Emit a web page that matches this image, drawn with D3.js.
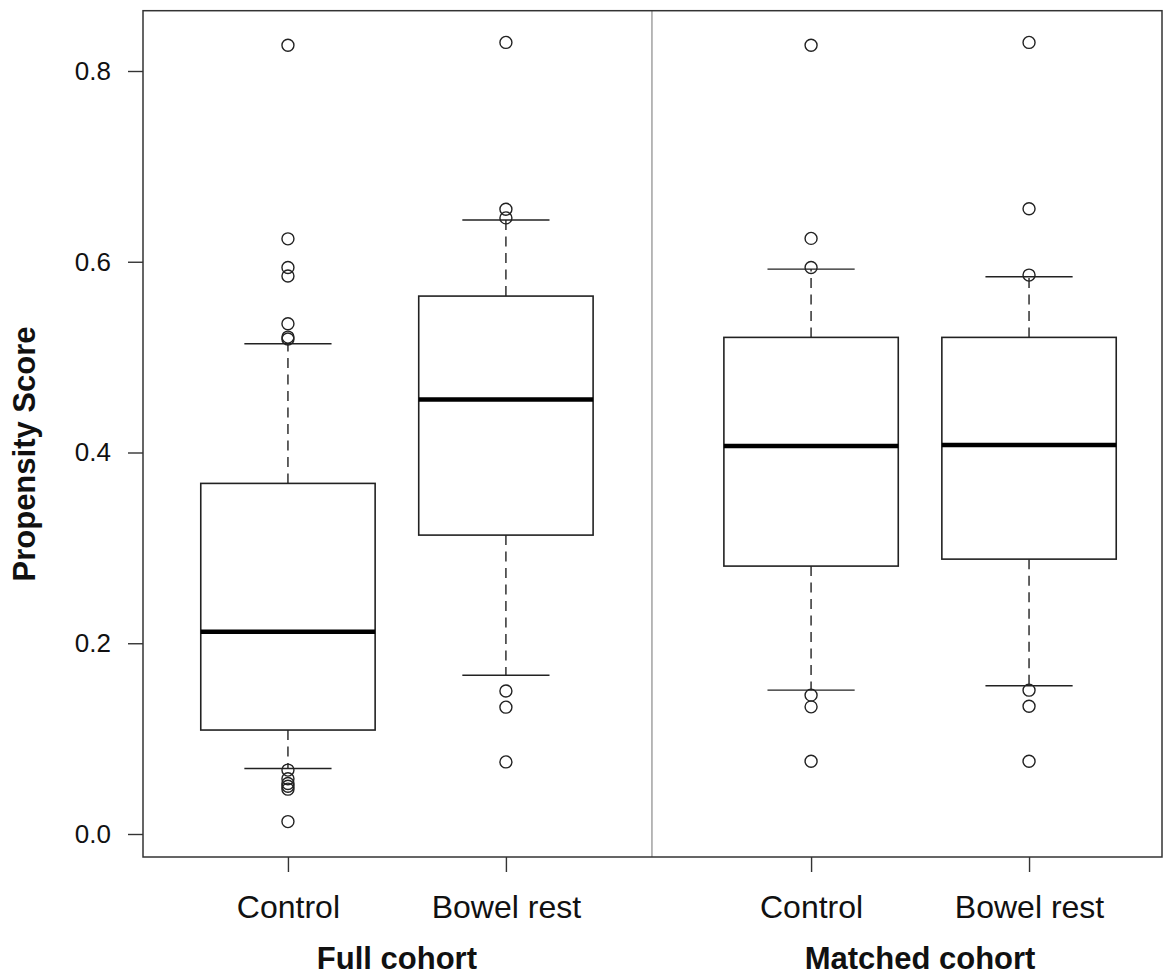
<!DOCTYPE html>
<html lang="en">
<head>
	<meta charset="utf-8">
	<title>Propensity score boxplots</title>
	<script type="text/javascript" src="https://cdn.jsdelivr.net/npm/d3@7"></script>
	<style type="text/css">
		body { margin: 0; background: #fff; }
		text { font-family: "Liberation Sans", Arial, sans-serif; fill: #111; }
	</style>
</head>
<body>
	<script type="text/javascript">
// DATA
		var groups = ["Control", "Bowel rest", "Control", "Bowel rest"];
		var cohorts = ["Full cohort", "Matched cohort"];
		var cohortOf = [0, 0, 1, 1];
		var whiskLow = [0.0687, 0.1665, 0.1508, 0.1554];
		var q1 = [0.109, 0.3134, 0.2809, 0.2882];
		var median = [0.212, 0.4557, 0.4067, 0.4078];
		var q3 = [0.3676, 0.564, 0.5207, 0.5207];
		var whiskHigh = [0.514, 0.6437, 0.5923, 0.5843];
		var outliers = [
			[0.827, 0.624, 0.594, 0.585, 0.535, 0.521, 0.519, 0.067, 0.058, 0.053, 0.050, 0.047, 0.013],
			[0.830, 0.655, 0.646, 0.150, 0.133, 0.0756],
			[0.827, 0.6245, 0.594, 0.1456, 0.1333, 0.0763],
			[0.830, 0.6556, 0.586, 0.1508, 0.134, 0.0763]
		];
		var yTicks = [0, 0.2, 0.4, 0.6, 0.8];

// LAYOUT
		var w = 1166, h = 977;
		var pLeft = 143, pRight = 1162, pTop = 10.7, pBottom = 857;
		var slots = [1, 2, 3.4, 4.4];   // box positions along x
		var divider = 2.67;
		var boxWex = 0.8, stapleWex = 0.4;

		var x = d3.scaleLinear().domain([0.335, 5.01]).range([pLeft, pRight]);
		var y = d3.scaleLinear().domain([0, 0.8]).range([834, 71]);

		var boxes = groups.map(function(g, i) {
			return { name: g, pos: slots[i], lo: whiskLow[i], q1: q1[i], med: median[i],
				q3: q3[i], hi: whiskHigh[i], out: outliers[i] };
		});

// SVG
		var svg = d3.select("body")
			.append("svg")
			.attr("width", w)
			.attr("height", h);

		// divider between cohorts
		svg.append("line")
			.attr("x1", x(divider)).attr("x2", x(divider))
			.attr("y1", pTop).attr("y2", pBottom)
			.attr("stroke", "#8a8a8a")
			.attr("stroke-width", 1.2);

		var bx = svg.selectAll("g.box")
			.data(boxes)
			.enter()
			.append("g")
			.attr("class", "box");

		// WHISKERS (dashed)
		bx.append("line")
			.attr("x1", function(d) { return x(d.pos); })
			.attr("x2", function(d) { return x(d.pos); })
			.attr("y1", function(d) { return y(d.q3); })
			.attr("y2", function(d) { return y(d.hi); })
			.attr("stroke", "#222").attr("stroke-width", 1.4)
			.attr("stroke-dasharray", "10,6.5");
		bx.append("line")
			.attr("x1", function(d) { return x(d.pos); })
			.attr("x2", function(d) { return x(d.pos); })
			.attr("y1", function(d) { return y(d.q1); })
			.attr("y2", function(d) { return y(d.lo); })
			.attr("stroke", "#222").attr("stroke-width", 1.4)
			.attr("stroke-dasharray", "10,6.5");

		// STAPLES
		["lo", "hi"].forEach(function(k) {
			bx.append("line")
				.attr("x1", function(d) { return x(d.pos - stapleWex / 2); })
				.attr("x2", function(d) { return x(d.pos + stapleWex / 2); })
				.attr("y1", function(d) { return y(d[k]); })
				.attr("y2", function(d) { return y(d[k]); })
				.attr("stroke", "#222").attr("stroke-width", 1.4);
		});

		// BOXES
		bx.append("rect")
			.attr("x", function(d) { return x(d.pos - boxWex / 2); })
			.attr("width", function(d) { return x(d.pos + boxWex / 2) - x(d.pos - boxWex / 2); })
			.attr("y", function(d) { return y(d.q3); })
			.attr("height", function(d) { return y(d.q1) - y(d.q3); })
			.attr("fill", "white")
			.attr("stroke", "#222").attr("stroke-width", 1.6);

		// MEDIANS
		bx.append("line")
			.attr("x1", function(d) { return x(d.pos - boxWex / 2); })
			.attr("x2", function(d) { return x(d.pos + boxWex / 2); })
			.attr("y1", function(d) { return y(d.med); })
			.attr("y2", function(d) { return y(d.med); })
			.attr("stroke", "#000").attr("stroke-width", 4.5);

		// OUTLIERS
		bx.selectAll("circle")
			.data(function(d) { return d.out.map(function(v) { return { pos: d.pos, v: v }; }); })
			.enter()
			.append("circle")
			.attr("cx", function(d) { return x(d.pos); })
			.attr("cy", function(d) { return y(d.v); })
			.attr("r", 6)
			.attr("fill", "none")
			.attr("stroke", "#222").attr("stroke-width", 1.4);

		// FRAME
		svg.append("rect")
			.attr("x", pLeft).attr("y", pTop)
			.attr("width", pRight - pLeft).attr("height", pBottom - pTop)
			.attr("fill", "none")
			.attr("stroke", "#333").attr("stroke-width", 1.5);

		// Y AXIS
		var yAxis = svg.append("g")
			.attr("transform", "translate(" + pLeft + ",0)")
			.call(d3.axisLeft(y).tickValues(yTicks).tickFormat(d3.format(".1f")).tickSize(15).tickPadding(17));
		yAxis.select(".domain").remove();
		yAxis.selectAll("line").attr("stroke", "#333").attr("stroke-width", 1.4);
		yAxis.selectAll("text")
			.attr("font-family", "Liberation Sans, Arial, sans-serif")
			.attr("font-size", "26px")
			.attr("fill", "#111");

		// X AXIS
		var xAxis = svg.append("g")
			.attr("transform", "translate(0," + pBottom + ")")
			.call(d3.axisBottom(x).tickValues(slots).tickFormat(function(d, i) { return groups[i]; }).tickSize(15));
		xAxis.select(".domain").remove();
		xAxis.selectAll("line").attr("stroke", "#333").attr("stroke-width", 1.4);
		xAxis.selectAll("text")
			.attr("y", 61)
			.attr("dy", 0)
			.attr("font-family", "Liberation Sans, Arial, sans-serif")
			.attr("font-size", "32px")
			.attr("fill", "#111");

		// COHORT LABELS
		svg.selectAll("text.cohort")
			.data(cohorts)
			.enter()
			.append("text")
			.attr("class", "cohort")
			.attr("x", function(d, i) {
				var s = slots.filter(function(p, j) { return cohortOf[j] === i; });
				return x((s[0] + s[s.length - 1]) / 2);
			})
			.attr("y", 969)
			.attr("text-anchor", "middle")
			.attr("font-size", "31px")
			.attr("font-weight", "bold")
			.text(function(d) { return d; });

		// Y TITLE
		svg.append("text")
			.attr("transform", "translate(35,454) rotate(-90)")
			.attr("text-anchor", "middle")
			.attr("font-size", "31px")
			.attr("font-weight", "bold")
			.text("Propensity Score");
	</script>
</body>
</html>
